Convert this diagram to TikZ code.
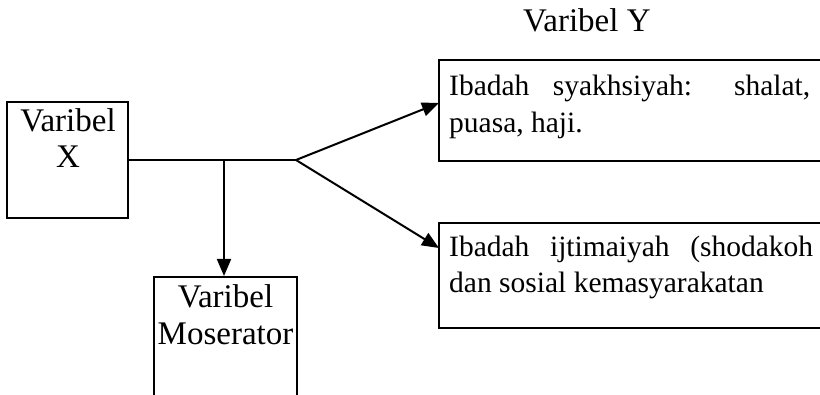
\documentclass[tikz,border=0pt]{standalone}
\usepackage{fontspec}
\setmainfont{Liberation Serif}
\usetikzlibrary{arrows.meta}
\begin{document}
\begin{tikzpicture}[x=1pt,y=-1pt,
  boxx/.style={draw=black,line width=2pt,rectangle,inner sep=0pt},
  lbl/.style={inner sep=0pt,font=\fontsize{33}{37}\selectfont},
  txt/.style={inner sep=0pt,font=\fontsize{29.5}{36}\selectfont},
  conn/.style={line width=2pt},
  arr/.style={line width=2pt,-{Triangle[length=17pt,width=14pt]}}]
\useasboundingbox (0,0) rectangle (820,395);
\clip (0,0) rectangle (820,395);
% boxes
\node[boxx,minimum width=121pt,minimum height=116pt] (bx) at (67.5,160) {};
\node[boxx,minimum width=143pt,minimum height=150pt] (bm) at (225.5,352) {};
\node[boxx,minimum width=387pt,minimum height=101pt] (bt) at (632.5,110.5) {};
\node[boxx,minimum width=387pt,minimum height=105pt] (bb) at (632.5,275.5) {};
% texts
\node[lbl,anchor=base west] (ty) at (523,32) {Varibel Y};
\node[lbl,anchor=base] (tx1) at (68,132) {Varibel};
\node[lbl,anchor=base] (tx2) at (68,168) {X};
\node[lbl,anchor=base] (tm1) at (225.5,308) {Varibel};
\node[lbl,anchor=base] (tm2) at (225.5,345) {Moserator};
\node[txt,anchor=base west] (tt1) at (449,96) {\makebox[361pt][s]{Ibadah syakhsiyah: shalat,}};
\node[txt,anchor=base west] (tt2) at (449,133) {puasa, haji.};
\node[txt,anchor=base west] (tb1) at (449,257) {\makebox[364pt][s]{Ibadah ijtimaiyah (shodakoh}};
\node[txt,anchor=base west] (tb2) at (449,293) {dan sosial kemasyarakatan};
% connectors
\coordinate (j) at (224,160);
\coordinate (s) at (296,160);
\coordinate (e1) at (439,103);
\coordinate (e2) at (439,248);
\draw[conn] (bx.east |- s) -- (s);
\draw[arr] (j) -- (j |- bm.north);
\draw[arr] (s) -- (e1);
\draw[arr] (s) -- (e2);
\end{tikzpicture}
\end{document}
